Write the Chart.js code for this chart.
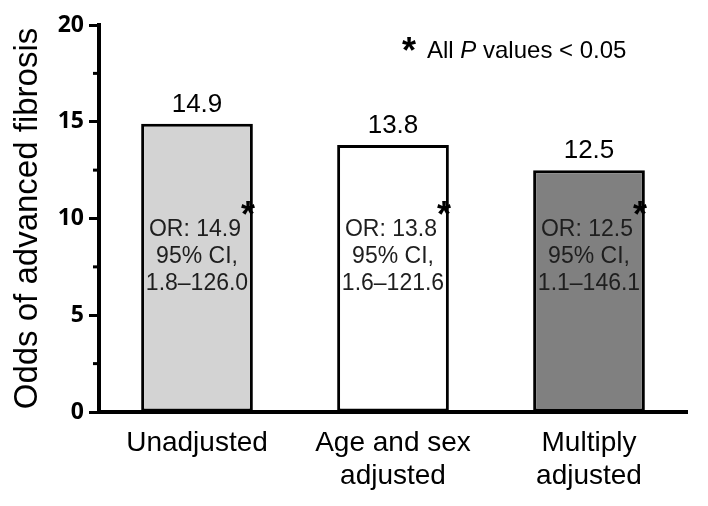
<!DOCTYPE html>
<html>
<head>
<meta charset="utf-8">
<script src="https://cdn.jsdelivr.net/npm/chart.js@4.4.0/dist/chart.umd.min.js"></script>
<style>
    html, body { margin: 0; padding: 0; background: #fff; }
    #wrap { width: 708px; height: 506px; }
</style>
</head>
<body>
<div id="wrap"><canvas id="oddsChart" width="708" height="506"></canvas></div>
<script>
// chart data
const categories = [['Unadjusted'], ['Age and sex', 'adjusted'], ['Multiply', 'adjusted']];
const oddsRatios = [14.9, 13.8, 12.5];
const ciRanges = ['1.8\u2013126.0', '1.6\u2013121.6', '1.1\u2013146.1'];
const yMin = 0;
const yMax = 20;
const majorStep = 5;
const minorStep = 2.5;
const noteText = ['All ', 'P', ' values < 0.05'];

const barFills = ['#d3d3d3', '#ffffff', '#808080'];
const sansFont = "'Liberation Sans', Arial, Helvetica, sans-serif";

// value labels, the OR / CI text inside bars and the note in the corner
const annotate = {
    id: 'annotate',
    afterDatasetsDraw(chart) {
        const ctx = chart.ctx;
        const yScale = chart.scales.y;
        const meta = chart.getDatasetMeta(0);
        ctx.save();
        ctx.textAlign = 'center';
        meta.data.forEach((bar, i) => {
            // number above the bar
            ctx.fillStyle = '#000';
            ctx.font = '26px ' + sansFont;
            ctx.textBaseline = 'alphabetic';
            ctx.fillText(oddsRatios[i].toFixed(1), bar.x, bar.y - 12);

            // text block inside the bar
            const y0 = yScale.getPixelForValue(9.4);
            ctx.fillStyle = '#1e1e1e';
            ctx.font = '23px ' + sansFont;
            ctx.textBaseline = 'middle';
            const first = 'OR: ' + oddsRatios[i].toFixed(1);
            ctx.fillText(first, bar.x - 2, y0);
            ctx.fillText('95% CI,', bar.x, y0 + 27);
            ctx.fillText(ciRanges[i], bar.x, y0 + 54);

            const w = ctx.measureText(first).width;
            ctx.fillStyle = '#000';
            ctx.font = 'bold 36px ' + sansFont;
            ctx.textAlign = 'left';
            ctx.fillText('*', bar.x - 2 + w / 2, y0 - 13);
            ctx.textAlign = 'center';
        });

        // note top right
        ctx.textAlign = 'left';
        ctx.textBaseline = 'alphabetic';
        ctx.fillStyle = '#000';
        ctx.font = 'bold 36px ' + sansFont;
        ctx.fillText('*', 402, 63);
        let x = 427;
        const noteFonts = ['24px ' + sansFont, 'italic 24px ' + sansFont, '24px ' + sansFont];
        noteText.forEach((t, k) => {
            ctx.font = noteFonts[k];
            ctx.fillText(t, x, 58);
            x += ctx.measureText(t).width;
        });

        // short minor ticks on the y axis
        ctx.strokeStyle = '#000';
        ctx.lineWidth = 3;
        for (let v = yMin + minorStep; v < yMax; v += majorStep) {
            const py = yScale.getPixelForValue(v);
            ctx.beginPath();
            ctx.moveTo(chart.chartArea.left - 6, py);
            ctx.lineTo(chart.chartArea.left, py);
            ctx.stroke();
        }
        ctx.restore();
    }
};

new Chart(document.getElementById('oddsChart'), {
    type: 'bar',
    data: {
        labels: categories,
        datasets: [{
            data: oddsRatios,
            backgroundColor: barFills,
            borderColor: '#000',
            borderWidth: 3,
            borderSkipped: false,
            barPercentage: 0.57,
            categoryPercentage: 1.0
        }]
    },
    options: {
        responsive: false,
        animation: false,
        devicePixelRatio: 1,
        layout: { padding: { left: 0, right: 21, top: 25, bottom: 0 } },
        plugins: {
            legend: { display: false },
            tooltip: { enabled: false }
        },
        scales: {
            x: {
                afterFit(scale) { scale.height = 94; },
                border: { color: '#000', width: 4 },
                grid: { display: false, drawTicks: false },
                ticks: {
                    color: '#000',
                    padding: 14,
                    maxRotation: 0,
                    autoSkip: false,
                    font: { family: sansFont, size: 28, lineHeight: 1.2 }
                }
            },
            y: {
                min: yMin,
                max: yMax,
                afterFit(scale) { scale.width = 99; },
                afterBuildTicks(scale) {
                    const t = [];
                    for (let v = yMin; v <= yMax; v += minorStep) t.push({ value: v });
                    scale.ticks = t;
                },
                border: { color: '#000', width: 4 },
                grid: {
                    drawOnChartArea: false,
                    drawTicks: true,
                    tickLength: 10,
                    tickWidth: 3,
                    tickColor: ctx => (ctx.tick && ctx.tick.value % majorStep === 0) ? '#000' : 'rgba(0,0,0,0)'
                },
                ticks: {
                    color: '#000',
                    padding: 5,
                    font: { family: "'Open Sans', sans-serif", size: 23, weight: 'bold' },
                    callback: v => (v % majorStep === 0 ? v : '')
                },
                title: {
                    display: true,
                    text: 'Odds of advanced fibrosis',
                    color: '#000',
                    padding: { top: 8, bottom: 0 },
                    font: { family: sansFont, size: 33 }
                }
            }
        }
    },
    plugins: [annotate]
});
</script>
</body>
</html>
